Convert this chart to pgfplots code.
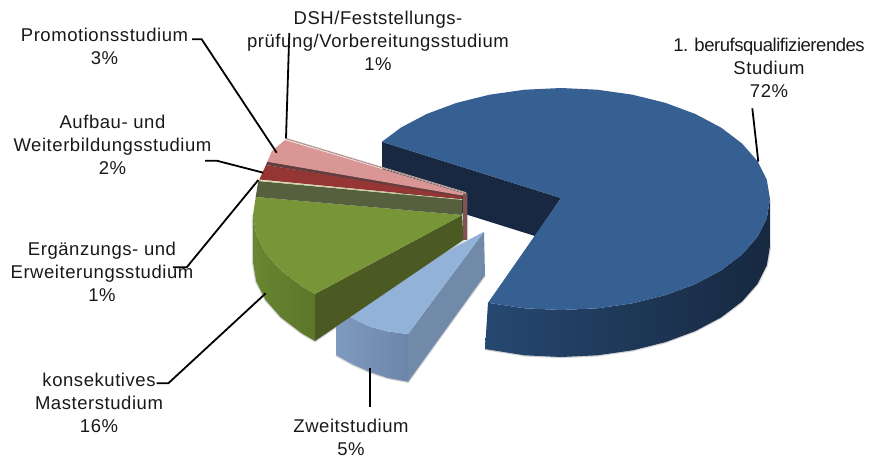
\documentclass[border=0pt]{standalone}
\usepackage{pgfplots}
\pgfplotsset{compat=1.18}
\usepackage{fontspec}
\setmainfont[LetterSpace=3]{Liberation Sans}
\definecolor{bluetop}{RGB}{54,96,146}
\definecolor{bluedark}{RGB}{23,40,64}
\definecolor{bluefront}{RGB}{38,72,112}
\definecolor{lighttop}{RGB}{147,178,216}
\definecolor{lightside}{RGB}{113,138,170}
\definecolor{lightfronta}{RGB}{128,155,192}
\definecolor{lightfrontb}{RGB}{108,133,168}
\definecolor{greentop}{RGB}{120,150,55}
\definecolor{greenfront}{RGB}{105,134,50}
\definecolor{greenfrontb}{RGB}{92,118,42}
\definecolor{greencut}{RGB}{75,90,35}
\definecolor{olive}{RGB}{86,96,62}
\definecolor{oliveline}{RGB}{200,208,150}
\definecolor{redtop}{RGB}{150,54,52}
\definecolor{redband}{RGB}{100,62,62}
\definecolor{pinktop}{RGB}{217,150,148}
\definecolor{brownstrip}{RGB}{128,84,84}
\definecolor{paleedge}{RGB}{205,185,180}
\tikzset{lab/.style={font=\fontsize{18.5}{23}\selectfont,align=center,text=black!90,inner sep=0pt},
  leader/.style={black,line width=1.8pt},
  soft/.style={black,opacity=.18,line width=2.4pt}}
\begin{document}
\begin{tikzpicture}
\useasboundingbox (0,0) rectangle (896pt,461pt);
\begin{axis}[scale only axis,width=896pt,height=461pt,hide axis,
  xmin=0,xmax=896,ymin=0,ymax=461,y dir=reverse,clip=false,no markers]
% soft shadow along the lower edges
\addplot[soft] coordinates {(770,246)(766.8,265.3)(757.4,284)(742,301.5)(721.1,317.4)(695.4,331)(665.5,342.1)(632.5,350.3)(597.3,355.3)(561,357)(524.7,355.3)(485,349)};
\addplot[soft] coordinates {(485,275)(408,381.7)(388,378)(370,372)(352,364)(336,355)};
\addplot[soft] coordinates {(463.3,240)(315,341)(301.9,333.4)(281,317.5)(265.6,300)(256.2,281.3)(253,262)(253,215)};
% blue slice, 72 %
\addplot[draw=none,fill=bluedark] coordinates {(382,141.8)(561,198)(535,236)(382,188)} --cycle;
\addplot[draw=none,shade,left color=bluefront,right color=bluedark] coordinates {
 (488,302.8)(524.7,308.3)(561,310)(597.3,308.3)(632.5,303.3)(665.5,295.1)(695.4,284)(721.1,270.4)(742,254.5)(757.4,237)(766.8,218.3)(770,199)
 (770,246)(766.8,265.3)(757.4,284)(742,301.5)(721.1,317.4)(695.4,331)(665.5,342.1)(632.5,350.3)(597.3,355.3)(561,357)(524.7,355.3)(485,349)} --cycle;
\addplot[draw=none,fill=bluetop] coordinates {
 (561,198)(381.9,141.8)(400.9,127.6)(426.6,114)(456.5,102.9)(489.5,94.7)(524.7,89.7)(561,88)(597.3,89.7)(632.5,94.7)(665.5,102.9)(695.4,114)(721.1,127.6)(742,143.5)(757.4,161)(766.8,179.7)(770,199)
 (766.8,218.3)(757.4,237)(742,254.5)(721.1,270.4)(695.4,284)(665.5,295.1)(632.5,303.3)(597.3,308.3)(561,310)(524.7,308.3)(488,302.8)} --cycle;
% light blue slice, 5 %
\addplot[draw=none,fill=lightside] coordinates {(484,231.7)(408,334)(408,381.7)(485,275)} --cycle;
\addplot[draw=none,shade,left color=lightfronta,right color=lightfrontb] coordinates {(336.7,309.3)(352,318)(370,326.7)(388,331.5)(408,334)(408,381.7)(388,378)(370,372)(352,364)(336,355)} --cycle;
\addplot[draw=none,fill=lighttop] coordinates {(484,231.7)(336.7,309.3)(352,318)(370,326.7)(388,331.5)(408,334)} --cycle;
% strip at the apex of the small slices
\addplot[draw=none,fill=brownstrip] coordinates {(463,194)(467.3,193)(467.3,240)(463,240)} --cycle;
% green slice, 16 %
\addplot[draw=none,shade,left color=greenfront,right color=greenfrontb] coordinates {
 (253,215)(256.2,234.3)(265.6,253)(281,270.5)(301.9,286.4)(315,293.9)(315,341)(301.9,333.4)(281,317.5)(265.6,300)(256.2,281.3)(253,262)} --cycle;
\addplot[draw=none,fill=greencut] coordinates {(315,293.9)(462.3,215)(463.3,240)(315,341)} --cycle;
\addplot[draw=none,fill=greentop] coordinates {(462.3,215)(255.7,197)(253,215)(256.2,234.3)(265.6,253)(281,270.5)(301.9,286.4)(315,293.9)} --cycle;
% olive slice, 1 %
\addplot[draw=none,fill=olive] coordinates {(258.3,181)(255.7,197)(462.3,215)(462.3,200)} --cycle;
\addplot[oliveline,line width=1pt] coordinates {(258.3,180.5)(462.3,199.5)};
% red slice, 2 %
\addplot[draw=none,fill=redtop] coordinates {(266,165)(259.3,179.5)(462.3,199)(462.3,196)} --cycle;
\addplot[draw=none,fill=redband] coordinates {(267.3,161.5)(266,165)(462.3,197)(462.3,194.5)} --cycle;
% pink slice, 3 %
\addplot[draw=none,fill=pinktop] coordinates {(285,140)(272,151)(267.3,161.7)(462.3,195.5)(464,193.5)} --cycle;
% thin slice, 1 %
\addplot[paleedge,line width=1.6pt] coordinates {(285.5,138.5)(466,193)};
\addplot[brownstrip,line width=.6pt,densely dotted] coordinates {(285.5,138.5)(466,193)};
% leader lines
\addplot[leader] coordinates {(192,39.3)(201.7,39.3)(276.7,152.7)};
\addplot[leader] coordinates {(289.3,33)(286,138.3)};
\addplot[leader] coordinates {(205,160.7)(216.7,160.7)(263.3,172.7)};
\addplot[leader] coordinates {(173,267.3)(186.7,267.3)(258.3,180)};
\addplot[leader] coordinates {(156.7,383.3)(168.3,383.3)(265.7,293.3)};
\addplot[leader] coordinates {(370,368.3)(370,407)};
\addplot[leader] coordinates {(752.3,108.3)(758.3,161.7)};
% labels
\node[lab] at (axis cs:378,41) {DSH/Feststellungs-\\pr\"ufung/Vorbereitungsstudium\\1\%};
\node[lab] at (axis cs:104.5,46.5) {Promotionsstudium\\3\%};
\node[lab] at (axis cs:112.5,145) {Aufbau- und\\Weiterbildungsstudium\\2\%};
\node[lab] at (axis cs:102,272) {Erg\"anzungs- und\\Erweiterungsstudium\\1\%};
\node[lab] at (axis cs:99,403) {konsekutives\\Masterstudium\\16\%};
\node[lab] at (axis cs:351,437.5) {Zweitstudium\\5\%};
\node[lab] at (axis cs:769,68) {{\addfontfeature{LetterSpace=-2.5}1. berufsqualifizierendes}\\Studium\\72\%};
\end{axis}
\end{tikzpicture}
\end{document}
